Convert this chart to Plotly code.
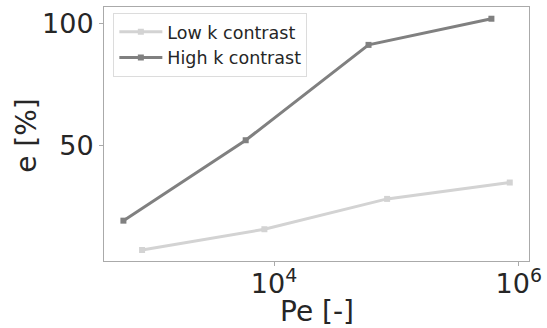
import plotly.graph_objects as go

pe_low = [834, 8340, 84000, 845000]
e_low = [7.4, 15.9, 28.3, 35.0]
pe_high = [587, 5865, 59200, 598000]
e_high = [19.4, 52.3, 91.3, 102.0]

series_names = ["Low k contrast", "High k contrast"]
colors = ["#d3d3d3", "#808080"]

x_tickvals = [1e4, 1e6]
x_ticktext = ["10<sup>4</sup>", "10<sup>6</sup>"]
y_tickvals = [50, 100]

fig = go.Figure()
for name, xs, ys, c in [(series_names[0], pe_low, e_low, colors[0]),
                        (series_names[1], pe_high, e_high, colors[1])]:
    fig.add_trace(go.Scatter(x=xs, y=ys, mode="lines+markers", name=name,
                             line=dict(color=c, width=3),
                             marker=dict(symbol="square", size=6, color=c)))

frame = "#aaaaaa"
fig.update_layout(
    width=547, height=328,
    margin=dict(l=104, r=18, t=7, b=67, autoexpand=False),
    plot_bgcolor="white", paper_bgcolor="white",
    font=dict(family="DejaVu Sans", color="#262626"),
    showlegend=True,
    legend=dict(x=0.022, y=0.977, xanchor="left", yanchor="top",
                bgcolor="white", bordercolor="#dcdcdc", borderwidth=1,
                itemwidth=43,
                font=dict(size=17.5, color="#262626")),
    xaxis=dict(type="log", range=[2.61, 6.084], tickvals=x_tickvals, ticktext=x_ticktext,
               showgrid=False, zeroline=False, automargin=False,
               showline=True, linecolor=frame, mirror=True, linewidth=1,
               ticks="outside", ticklen=4, tickcolor=frame, ticklabelstandoff=-5,
               tickfont=dict(size=27)),
    yaxis=dict(range=[2.9, 106.8], tickvals=y_tickvals, showgrid=False, zeroline=False,
               automargin=False,
               showline=True, linecolor=frame, mirror=True, linewidth=1,
               ticks="outside", ticklen=4, tickcolor=frame,
               tickfont=dict(size=27)),
    annotations=[
        dict(text="Pe [-]", xref="paper", yref="paper", x=0.501, y=-0.197,
             xanchor="center", yanchor="middle", showarrow=False,
             font=dict(size=28, color="#262626")),
        dict(text="e [%]", xref="paper", yref="paper", x=-0.184, y=0.496,
             xanchor="center", yanchor="middle", showarrow=False, textangle=-90,
             font=dict(size=28, color="#262626")),
    ],
)
fig.write_html("out.html", post_script="document.body.style.margin='0';",
               config={"displayModeBar": False})
